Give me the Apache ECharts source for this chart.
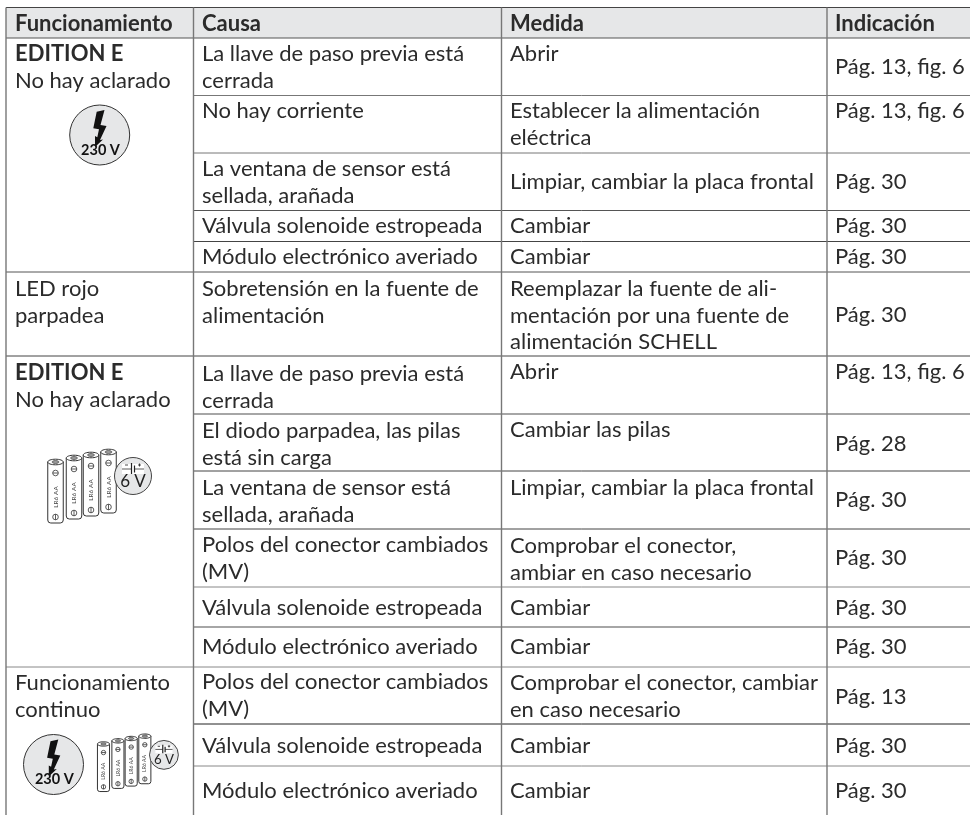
<!DOCTYPE html>
<html><head><meta charset="utf-8">
<style>html,body{margin:0;padding:0;background:#fff}#c{width:970px;height:815px}</style>
<script src="https://cdn.jsdelivr.net/npm/echarts@6/dist/echarts.min.js"></script></head>
<body><div id="c"></div>
<script>
// ---- table content ----
const headers = ['Funcionamiento', 'Causa', 'Medida', 'Indicación'];
const functions = ['{b|EDITION E}\nNo hay aclarado', 'LED rojo\nparpadea', '{b|EDITION E}\nNo hay aclarado', 'Funcionamiento\ncontinuo'];
const causes = [
  'La llave de paso previa está\ncerrada', 'No hay corriente', 'La ventana de sensor está\nsellada, arañada',
  'Válvula solenoide estropeada', 'Módulo electrónico averiado', 'Sobretensión en la fuente de\nalimentación',
  'La llave de paso previa está\ncerrada', 'El diodo parpadea, las pilas\nestá sin carga', 'La ventana de sensor está\nsellada, arañada',
  'Polos del conector cambiados\n(MV)', 'Válvula solenoide estropeada', 'Módulo electrónico averiado',
  'Polos del conector cambiados\n(MV)', 'Válvula solenoide estropeada', 'Módulo electrónico averiado'];
const measures = [
  'Abrir', 'Establecer la alimentación\neléctrica', 'Limpiar, cambiar la placa frontal', 'Cambiar', 'Cambiar',
  'Reemplazar la fuente de ali-\nmentación por una fuente de\nalimentación SCHELL', 'Abrir', 'Cambiar las pilas',
  'Limpiar, cambiar la placa frontal', 'Comprobar el conector,\nambiar en caso necesario', 'Cambiar', 'Cambiar',
  'Comprobar el conector, cambiar\nen caso necesario', 'Cambiar', 'Cambiar'];
const indications = [
  'Pág. 13, fig. 6', 'Pág. 13, fig. 6', 'Pág. 30', 'Pág. 30', 'Pág. 30', 'Pág. 30', 'Pág. 13, fig. 6', 'Pág. 28',
  'Pág. 30', 'Pág. 30', 'Pág. 30', 'Pág. 30', 'Pág. 13', 'Pág. 30', 'Pág. 30'];

// ---- layout (separate from the content) ----
const colEdges = [6, 193.5, 501.5, 827];
const textX = [15, 202, 510, 835];
const rightEdge = 970;
const topEdge = 7.5, headBottom = 38, bottomEdge = 815;
const rowEdges = [38, 95.5, 153, 210.5, 241.5, 272, 356, 414, 471, 529, 587, 627, 667, 724, 766];
const rowLineColors = ['#555', '#777', '#777', '#555', '#444', '#555', '#444', '#888', '#444', '#444', '#888', '#888', '#888', '#222', '#888'];
const fullWidthRows = [0, 5, 6, 12];
const funcFirstY = [54, 289, 373, 683];
const causeFirstY = [54, 111, 169, 226, 257, 289, 374, 431, 488, 545, 608, 647, 682, 746, 791];
const measureFirstY = [54, 111, 182, 226, 257, 289, 372, 430, 488, 546, 608, 647, 683, 746, 791];
const indicFirstY = [67, 111, 182, 226, 257, 315, 372, 444, 500, 558, 608, 647, 697, 746, 791];
const headerY = 24;
const LH = 26.7;
const FONT = 'Lato', FS = 22, INK = '#2b2b2b', HEAD_BG = '#e6e7e8';

// cell records for the custom series
const cells = [];
headers.forEach((t, i) => cells.push({ x: textX[i], y: headerY, t, bold: true }));
functions.forEach((t, i) => cells.push({ x: textX[0], y: funcFirstY[i], t }));
causes.forEach((t, i) => cells.push({ x: textX[1], y: causeFirstY[i], t }));
measures.forEach((t, i) => cells.push({ x: textX[2], y: measureFirstY[i], t }));
indications.forEach((t, i) => cells.push({ x: textX[3], y: indicFirstY[i], t }));

// rule records
const rules = [];
rules.push({ a: [colEdges[0], topEdge], b: [rightEdge, topEdge], c: '#444', w: 1 });
rowEdges.forEach((y, i) => {
  const from = fullWidthRows.includes(i) ? colEdges[0] : colEdges[1];
  rules.push({ a: [from, y], b: [rightEdge, y], c: rowLineColors[i], w: i === 11 || i === 7 ? 1.4 : 1 });
});
colEdges.forEach(x => rules.push({ a: [x, topEdge], b: [x, bottomEdge], c: '#777', w: 1.4 }));

const chart = echarts.init(document.getElementById('c'), null, { renderer: 'canvas' });

// ---- pictograms ----
function mains(dx, dy) {
  const pts = [[96.7,111.7],[104.5,110],[100.5,125],[106.5,126],[100,140],[103,139.5],[95,147],[95,136],[97.3,137.3],[99,129.3],[93.3,128.3]]
    .map(p => [p[0] + dx, p[1] + dy]);
  return [
    { type: 'circle', shape: { cx: 99.7 + dx, cy: 135 + dy, r: 30 }, style: { fill: HEAD_BG, stroke: '#333', lineWidth: 1 } },
    { type: 'polygon', shape: { points: pts }, style: { fill: '#111' } },
    { type: 'text', x: 100.5 + dx, y: 150 + dy, style: { text: '230 V', fontFamily: FONT, fontSize: 14.5, fontWeight: 700, fill: '#111', align: 'center', verticalAlign: 'middle' } }
  ];
}
function batteries(ox, oy, s) {
  const out = [];
  const cxs = [55.5, 74, 91, 108.5], tops = [462, 458, 455, 452];
  const w = 15.5 * s, h = 61 * s;
  cxs.forEach((c, i) => {
    const cx = ox + c * s, ty = oy + tops[i] * s, L = cx - w / 2;
    out.push({ type: 'rect', shape: { x: L, y: ty, width: w, height: h, r: [0, 0, 3 * s, 3 * s] }, style: { fill: '#fff', stroke: '#333', lineWidth: 1 } });
    out.push({ type: 'ellipse', shape: { cx, cy: ty, rx: w / 2, ry: 2.8 * s }, style: { fill: '#fff', stroke: '#333', lineWidth: 1 } });
    out.push({ type: 'ellipse', shape: { cx, cy: ty, rx: w / 4.5, ry: 1.5 * s }, style: { fill: '#999', stroke: '#333', lineWidth: 0.6 } });
    [11, 55].forEach(d => {
      out.push({ type: 'circle', shape: { cx, cy: ty + d * s, r: 2.8 * s }, style: { fill: '#fff', stroke: '#333', lineWidth: 0.8 } });
      out.push({ type: 'line', shape: { x1: d === 11 ? cx - 2.8 * s : cx, y1: d === 11 ? ty + d * s : ty + (d - 2.8) * s, x2: d === 11 ? cx + 2.8 * s : cx, y2: d === 11 ? ty + d * s : ty + (d + 2.8) * s }, style: { stroke: '#333', lineWidth: 0.8 } });
    });
    out.push({ type: 'text', x: cx, y: ty + 35 * s, rotation: Math.PI / 2, style: { text: 'LR6 AA', fontFamily: FONT, fontSize: 6.5 * s, fill: '#444', align: 'center', verticalAlign: 'middle' } });
  });
  const ccx = ox + 133 * s, ccy = oy + 476 * s;
  out.push({ type: 'circle', shape: { cx: ccx, cy: ccy, r: 18.5 * s }, style: { fill: HEAD_BG, stroke: '#444', lineWidth: 1 } });
  out.push({ type: 'rect', shape: { x: ccx - 11 * s, y: ccy - 12 * s, width: 22 * s, height: 10 * s }, style: { fill: '#fff' } });
  out.push({ type: 'line', shape: { x1: ccx - 11 * s, y1: ccy - 7 * s, x2: ccx + 11 * s, y2: ccy - 7 * s }, style: { stroke: '#333', lineWidth: 0.8 } });
  out.push({ type: 'rect', shape: { x: ccx - 1.5 * s, y: ccy - 8 * s, width: 3 * s, height: 2 * s }, style: { fill: '#fff' } });
  out.push({ type: 'line', shape: { x1: ccx - 1.5 * s, y1: ccy - 13 * s, x2: ccx - 1.5 * s, y2: ccy - 2 * s }, style: { stroke: '#222', lineWidth: 1.2 } });
  out.push({ type: 'line', shape: { x1: ccx + 1.5 * s, y1: ccy - 10.5 * s, x2: ccx + 1.5 * s, y2: ccy - 3.5 * s }, style: { stroke: '#222', lineWidth: 1.2 } });
  out.push({ type: 'line', shape: { x1: ccx - 8 * s, y1: ccy - 11 * s, x2: ccx - 5 * s, y2: ccy - 11 * s }, style: { stroke: '#222', lineWidth: 0.8 } });
  out.push({ type: 'line', shape: { x1: ccx + 5 * s, y1: ccy - 11 * s, x2: ccx + 8 * s, y2: ccy - 11 * s }, style: { stroke: '#222', lineWidth: 0.8 } });
  out.push({ type: 'line', shape: { x1: ccx + 6.5 * s, y1: ccy - 12.5 * s, x2: ccx + 6.5 * s, y2: ccy - 9.5 * s }, style: { stroke: '#222', lineWidth: 0.8 } });
  out.push({ type: 'text', x: ccx, y: ccy + 6 * s, style: { text: '6 V', fontFamily: FONT, fontSize: 17 * s, fill: '#222', align: 'center', verticalAlign: 'middle' } });
  return out;
}

chart.setOption({
  animation: false,
  backgroundColor: '#fff',
  grid: { left: 0, right: 0, top: 0, bottom: 0 },
  xAxis: { type: 'value', min: 0, max: 970, show: false },
  yAxis: { type: 'value', min: 0, max: 815, inverse: true, show: false },
  graphic: { elements: mains(0, 0).concat(mains(-46.2, 629.5), batteries(0, 0, 1), batteries(60.2, 383.6, 0.78)).map(e => Object.assign(e, { z: 10 })) },
  series: [
    { type: 'custom', coordinateSystem: 'cartesian2d', silent: true, z: 1, data: [[colEdges[0], topEdge, rightEdge, headBottom]],
      renderItem: (p, api) => {
        const a = api.coord([api.value(0), api.value(1)]), b = api.coord([api.value(2), api.value(3)]);
        return { type: 'rect', shape: { x: a[0], y: a[1], width: b[0] - a[0], height: b[1] - a[1] }, style: { fill: HEAD_BG } };
      } },
    { type: 'custom', coordinateSystem: 'cartesian2d', silent: true, z: 2, clip: false, data: rules.map((r, i) => [r.a[0], r.a[1], r.b[0], r.b[1], i]),
      renderItem: (p, api) => {
        const a = api.coord([api.value(0), api.value(1)]), b = api.coord([api.value(2), api.value(3)]), r = rules[api.value(4)];
        return { type: 'line', shape: { x1: a[0], y1: a[1], x2: b[0], y2: b[1] }, style: { stroke: r.c, lineWidth: r.w } };
      } },
    { type: 'custom', coordinateSystem: 'cartesian2d', silent: true, z: 3, clip: false, data: cells.map((c, i) => [c.x, c.y, i]),
      renderItem: (p, api) => {
        const a = api.coord([api.value(0), api.value(1)]), c = cells[api.value(2)];
        return { type: 'text', x: a[0], y: a[1] - LH / 2, style: {
          text: c.t, fontFamily: FONT, fontSize: FS, fontWeight: c.bold ? 700 : 400, fill: INK, lineHeight: LH, align: 'left', verticalAlign: 'top',
          rich: { b: { fontFamily: FONT, fontSize: FS, fontWeight: 700, fill: INK, lineHeight: LH } } } };
      } }
  ]
});
</script></body></html>
